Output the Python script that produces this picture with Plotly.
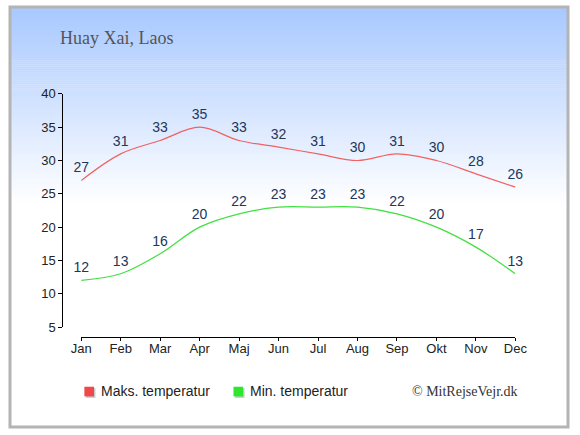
import plotly.graph_objects as go

months = ["Jan", "Feb", "Mar", "Apr", "Maj", "Jun", "Jul", "Aug", "Sep", "Okt", "Nov", "Dec"]
max_temp = [27, 31, 33, 35, 33, 32, 31, 30, 31, 30, 28, 26]
min_temp = [12, 13, 16, 20, 22, 23, 23, 23, 22, 20, 17, 13]
y_ticks = [5, 10, 15, 20, 25, 30, 35, 40]
legend_names = ["Maks. temperatur", "Min. temperatur"]

W, H = 580, 435
RED = "#f06262"
GREEN = "#3fe03f"
LEG_COLORS = ["#f04848", "#2ee62e"]
LABEL = "#22365a"

xs = list(range(len(months)))

fig = go.Figure()

for vals, col in ((max_temp, RED), (min_temp, GREEN)):
    fig.add_trace(go.Scatter(
        x=xs, y=vals, mode="lines+markers+text",
        line=dict(color=col, width=1.2, shape="spline", smoothing=1.0),
        marker=dict(size=6, color="rgba(0,0,0,0)"),
        text=[str(v) for v in vals], textposition="top center",
        textfont=dict(family="Liberation Sans, Arial", size=14, color=LABEL),
        showlegend=False, hoverinfo="skip", cliponaxis=False))

# background gradient bands
shapes = []
n = 100
grad_end = 205.0
top = (168, 200, 255)
for i in range(n):
    y0 = grad_end * i / n
    y1 = grad_end * (i + 1) / n
    t = (i + 0.5) / n
    c = tuple(int(round(top[k] + (255 - top[k]) * t)) for k in range(3))
    shapes.append(dict(type="rect", xref="paper", yref="paper", x0=0, x1=1,
                       y0=1 - y1 / H - 0.001, y1=1 - y0 / H,
                       fillcolor="rgb(%d,%d,%d)" % c, line=dict(width=0), layer="below"))
shapes.append(dict(type="rect", xref="paper", yref="paper", x0=0, x1=1, y0=0, y1=1,
                   line=dict(color="#b4b4b4", width=3), fillcolor="rgba(0,0,0,0)", layer="above"))

# manual legend (squares with light shadow + text)
annotations = []
leg_x = [77.3, 232.3]
leg_y = 393.3
for lx, name, col in zip(leg_x, legend_names, LEG_COLORS):
    shapes.append(dict(type="rect", xref="paper", yref="paper",
                       x0=(lx + 1.5) / W, x1=(lx + 11.5) / W,
                       y0=1 - (leg_y + 11.5) / H, y1=1 - (leg_y + 1.5) / H,
                       fillcolor="#c8c8c8", line=dict(width=0)))
    shapes.append(dict(type="rect", xref="paper", yref="paper",
                       x0=lx / W, x1=(lx + 10) / W,
                       y0=1 - (leg_y + 10) / H, y1=1 - leg_y / H,
                       fillcolor=col, line=dict(width=0)))
    annotations.append(dict(text=name, xref="paper", yref="paper", x=(lx + 15.5) / W,
                            y=1 - 398.0 / H, xanchor="left", yanchor="middle", showarrow=False,
                            font=dict(family="Liberation Sans, Arial", size=14, color="#222222")))

annotations += [
    dict(text="Huay Xai, Laos", xref="paper", yref="paper", x=50.0 / W, y=1 - 32.0 / H,
         xanchor="left", yanchor="middle", showarrow=False,
         font=dict(family="Liberation Serif, Times New Roman, serif", size=18, color="#555555")),
    dict(text="© MitRejseVejr.dk", xref="paper", yref="paper", x=530.0 / W, y=1 - 398.0 / H,
         xanchor="right", yanchor="middle", showarrow=False,
         font=dict(family="Liberation Serif, Times New Roman, serif", size=14, color="#333333")),
]

x_left, x_right = 74.0, 525.3
y_top, y_bot = 90.0, 331.5
fig.update_layout(
    width=W, height=H,
    margin=dict(l=0, r=0, t=0, b=0),
    paper_bgcolor="white", plot_bgcolor="rgba(0,0,0,0)",
    showlegend=False,
    shapes=shapes,
    annotations=annotations,
    xaxis=dict(domain=[x_left / W, x_right / W], range=[0, 11], tickvals=xs, ticktext=months,
               showgrid=False, zeroline=False, showline=True, linecolor="black", linewidth=1.3,
               ticks="outside", ticklen=3, tickcolor="black", tickwidth=1.3,
               ticklabelstandoff=-4,
               tickfont=dict(family="Liberation Sans, Arial", size=13, color="#222222"),
               anchor="free", position=1 - 342.0 / H),
    yaxis=dict(domain=[1 - y_bot / H, 1 - y_top / H], range=[5, 40], tickvals=y_ticks,
               showgrid=False, zeroline=False, showline=True, linecolor="black", linewidth=1.3,
               ticks="outside", ticklen=4, tickcolor="black", tickwidth=1.3,
               tickfont=dict(family="Liberation Sans, Arial", size=13, color="#222222"),
               anchor="free", position=54.5 / W),
)

post = """
document.documentElement.style.margin='0';
document.body.style.margin='0';
document.body.style.overflow='hidden';
"""

fig.write_html("out.html", config={"displayModeBar": False}, post_script=post)
